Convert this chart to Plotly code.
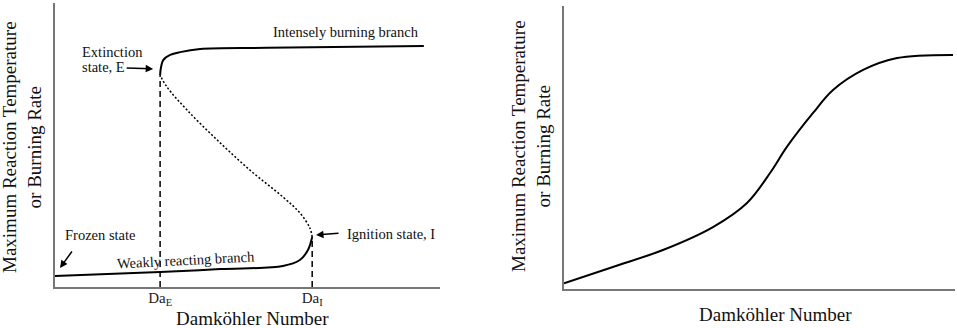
import plotly.graph_objects as go

W, H = 957, 328

# ---- Data ----
# Left panel: S-shaped response curve (Damköhler number vs temperature), arbitrary units 0-10
lower_x = [0.00, 2.73, 4.29, 5.92, 6.36, 6.57, 6.68]
lower_y = [0.39, 0.53, 0.63, 0.74, 0.95, 1.30, 1.76]
middle_x = [6.68, 6.62, 6.36, 5.92, 5.06, 4.21, 3.43, 2.91, 2.73]
middle_y = [1.76, 2.08, 2.61, 3.17, 4.12, 5.18, 6.23, 7.04, 7.46]
upper_x = [2.73, 2.75, 2.81, 2.99, 3.25, 3.77, 5.51, 9.58]
upper_y = [7.46, 7.71, 7.99, 8.17, 8.27, 8.38, 8.42, 8.49]
da_e, da_i = 2.73, 6.68
y_e, y_i = 7.46, 1.76
tick_labels = ["Da<sub>E</sub>", "Da<sub>I</sub>"]

# Right panel: monotonic response curve
right_x = [0.00, 1.25, 2.53, 3.81, 4.68, 5.27, 5.70, 6.37, 6.88, 7.65, 8.52, 9.95]
right_y = [0.20, 0.78, 1.38, 2.19, 3.04, 4.10, 5.02, 6.22, 7.03, 7.74, 8.16, 8.27]

FONT = "Liberation Serif"
AX = "#777777"

def px(x):
    return x / W

def py(y):
    return 1 - y / H

fig = go.Figure()
solid = dict(color="black", width=2, shape="spline", smoothing=1.0)
fig.add_trace(go.Scatter(x=lower_x, y=lower_y, mode="lines", line=solid, xaxis="x", yaxis="y"))
fig.add_trace(go.Scatter(x=upper_x, y=upper_y, mode="lines", line=solid, xaxis="x", yaxis="y"))
fig.add_trace(go.Scatter(x=middle_x, y=middle_y, mode="lines",
                         line=dict(color="black", width=1.5, dash="2px,2px", shape="spline", smoothing=1.0),
                         xaxis="x", yaxis="y"))
for xv, yv in [(da_e, y_e), (da_i, y_i)]:
    fig.add_trace(go.Scatter(x=[xv, xv], y=[0, yv], mode="lines",
                             line=dict(color="black", width=1.5, dash="6px,4px"),
                             xaxis="x", yaxis="y"))
fig.add_trace(go.Scatter(x=right_x, y=right_y, mode="lines", line=solid, xaxis="x2", yaxis="y2"))

axis_common = dict(showgrid=False, zeroline=False, showline=True, linecolor=AX, linewidth=1.5,
                   ticks="", ticklen=0, fixedrange=True)
fig.update_layout(
    width=W, height=H, margin=dict(l=0, r=0, t=0, b=0),
    paper_bgcolor="white", plot_bgcolor="white", showlegend=False,
    font=dict(family=FONT, color="black"),
    xaxis=dict(domain=[px(55), px(440)], range=[0, 10], tickvals=[da_e, da_i], ticktext=tick_labels,
               tickfont=dict(size=15, family=FONT, color="#222"), ticklabelstandoff=-4,
               anchor="y", **axis_common),
    yaxis=dict(domain=[py(287), py(3)], range=[0, 10], showticklabels=False, anchor="x", **axis_common),
    xaxis2=dict(domain=[px(564), px(955)], range=[0, 10], showticklabels=False, anchor="y2", **axis_common),
    yaxis2=dict(domain=[py(289), py(6)], range=[0, 10], showticklabels=False, anchor="x2", **axis_common),
)

def label(text, x, y, size=14.5, xanchor="center", angle=0):
    fig.add_annotation(text=text, x=px(x), y=py(y), xref="paper", yref="paper", showarrow=False,
                       xanchor=xanchor, yanchor="middle", textangle=angle,
                       font=dict(family=FONT, size=size, color="#111"))

def arrow(x_head, y_head, dx, dy):
    fig.add_annotation(text="", x=x_head, y=y_head, xref="x", yref="y", ax=dx, ay=dy,
                       showarrow=True, arrowhead=2, arrowsize=1, arrowwidth=1.5, arrowcolor="black")

# Axis titles
label("Damköhler Number", 252, 318, size=19)
label("Damköhler Number", 775, 314, size=19)
label("Maximum Reaction Temperature<br>or Burning Rate", 22, 147, size=19, angle=-90)
label("Maximum Reaction Temperature<br>or Burning Rate", 531, 146, size=19, angle=-90)

# Left panel labels
label("Intensely burning branch", 346, 32)
label("Extinction", 80, 52, xanchor="left")
label("state, E", 80, 67, xanchor="left")
label("Ignition state, I", 345, 234, xanchor="left")
label("Frozen state", 63, 235, xanchor="left")
label("Weakly reacting branch", 186, 260, angle=-3)

# Arrows (heads in data coords, tails as pixel offsets)
arrow(2.55, 7.68, -28, -1)
arrow(6.78, 1.83, 24, -2)
arrow(0.13, 0.67, 13, -18)

fig.write_html("out.html", config={"displayModeBar": False},
               post_script="document.body.style.margin='0';document.body.style.overflow='hidden';")
